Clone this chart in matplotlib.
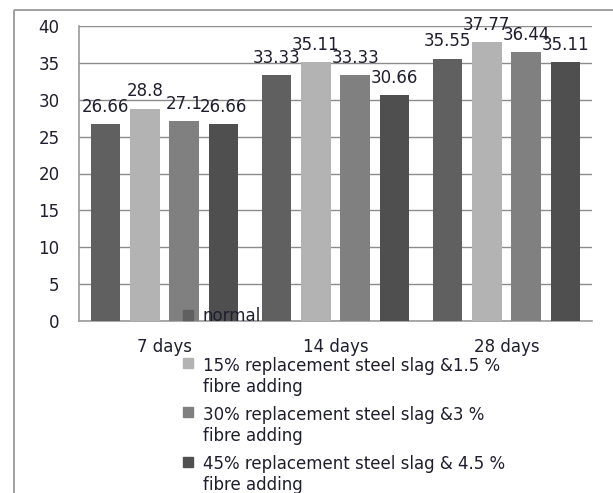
import numpy as np
import matplotlib
matplotlib.use('Agg')
import matplotlib.pyplot as plt
from matplotlib.patches import Rectangle
from matplotlib.lines import Line2D
from matplotlib.legend_handler import HandlerPatch

# ─── data ─────────────────────────────────────────────
categories = ['7 days', '14 days', '28 days']
series_names = ['normal',
                '15% replacement steel slag &1.5 %\nfibre adding',
                '30% replacement steel slag &3 %\nfibre adding',
                '45% replacement steel slag & 4.5 %\nfibre adding']
normal = [26.66, 33.33, 35.55]
slag15 = [28.8, 35.11, 37.77]
slag30 = [27.1, 33.33, 36.44]
slag45 = [26.66, 30.66, 35.11]
values = [normal, slag15, slag30, slag45]
colors = ['#606060', '#b3b3b3', '#808080', '#4f4f4f']
yticks = [0, 5, 10, 15, 20, 25, 30, 35, 40]

txt_col = '#1e1e2e'
plt.rcParams['font.family'] = ['DejaVu Sans']

fig = plt.figure(figsize=(6.13, 4.93), dpi=100)
W, H = 613, 493
ax = fig.add_axes([79 / W, 1 - 321 / H, (592 - 79) / W, (321 - 26) / H])

# outer chart frame (top and left edges only are visible)
fx, fy = 14 / W, 1 - 10 / H
frame_kw = dict(transform=fig.transFigure, color='#a0a0a0', linewidth=1.4,
                solid_capstyle='butt')
fig.add_artist(Line2D([fx, 1.05], [fy, fy], **frame_kw))
fig.add_artist(Line2D([fx, fx], [-0.05, fy], **frame_kw))

x = np.arange(len(categories))
step, bw = 0.23, 0.175
for i, (vals, c) in enumerate(zip(values, colors)):
    b = ax.bar(x + (i - 1.5) * step, vals, width=bw, color=c, zorder=3)
    ax.bar_label(b, labels=[f'{v:g}' for v in vals], padding=6,
                 fontsize=12, color=txt_col, zorder=4)

ax.set_xlim(-0.5, 2.5)
ax.set_ylim(0, 40)
ax.set_yticks(yticks)
ax.yaxis.grid(True, color='#8c8c8c', linewidth=1.0, zorder=0)
ax.set_axisbelow(True)
for s in ['top', 'right']:
    ax.spines[s].set_visible(False)
for s in ['left', 'bottom']:
    ax.spines[s].set_color('#9a9a9a')
    ax.spines[s].set_linewidth(1.2)
ax.tick_params(axis='y', length=0, pad=14, labelsize=12, labelcolor=txt_col)
ax.set_xticks(x)
ax.set_xticklabels(categories)
ax.tick_params(axis='x', length=0, pad=12, labelsize=12, labelcolor=txt_col)

# legend: square next to the first line of a two-line label
def top_square(legend, orig_handle, xdescent, ydescent, width, height, fontsize):
    return Rectangle((-xdescent, -ydescent + 0.85 * fontsize), width, height)

proxies = [Rectangle((0, 0), 1, 1, color=c) for c in colors]
leg_kw = dict(bbox_transform=fig.transFigure, frameon=False, fontsize=12,
              handlelength=0.6, handleheight=0.55, handletextpad=0.6,
              borderpad=0, borderaxespad=0, labelcolor=txt_col)
leg1 = ax.legend(handles=proxies[:1], labels=series_names[:1],
                 loc='center left', bbox_to_anchor=(183 / W, 1 - 316 / H),
                 **leg_kw)
ax.add_artist(leg1)
leg2 = ax.legend(handles=proxies[1:], labels=series_names[1:],
                 loc='upper left', bbox_to_anchor=(183 / W, 1 - 357 / H),
                 labelspacing=0.62,
                 handler_map={Rectangle: HandlerPatch(patch_func=top_square)},
                 **leg_kw)

fig.savefig('out.png', dpi=100)
